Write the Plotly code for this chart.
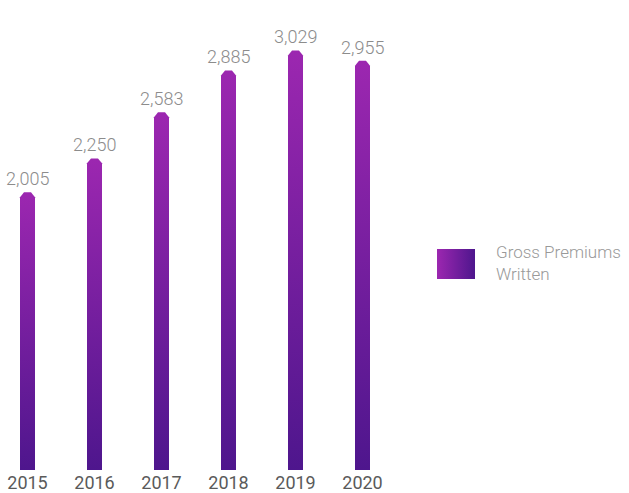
import plotly.graph_objects as go

years = ["2015", "2016", "2017", "2018", "2019", "2020"]
gpw_values = [2005, 2250, 2583, 2885, 3029, 2955]
series_name = "Gross Premiums<br>Written"

LIGHT = "#9C27B0"
DARK = "#4E168D"

W, H = 629, 493
plot_w = 395          # px width of the bar area
bottom_px = 470       # px of y=0
px_per_cat = 67.0
first_center_px = 27.5
x0 = -first_center_px / px_per_cat
x1 = x0 + plot_w / px_per_cat
px_per_unit = 0.1385
y_top = bottom_px / px_per_unit

half_w = 7.5 / px_per_cat
flat = 3.5 / px_per_cat
cham = 5.0 / px_per_unit


def py(p):
    """pixel row -> paper y (plot area spans rows 0..bottom_px)"""
    return (bottom_px - p) / bottom_px


fig = go.Figure()
for i, (yr, v) in enumerate(zip(years, gpw_values)):
    xs = [i - half_w, i - half_w, i - flat, i + flat, i + half_w, i + half_w, i - half_w]
    ys = [0, v - cham, v, v, v - cham, 0, 0]
    fig.add_trace(go.Scatter(
        x=xs, y=ys, mode="lines", line=dict(width=0), fill="toself",
        fillgradient=dict(type="vertical", colorscale=[[0, DARK], [1, LIGHT]]),
        hoverinfo="skip", showlegend=False,
    ))
    fig.add_annotation(x=i, y=v, text=f"{v:,}", showarrow=False, yanchor="bottom",
                       yshift=1, xref="x", yref="y",
                       font=dict(family="Roboto, Liberation Sans, sans-serif", size=18,
                                 color="#8c8c8c", weight=300))

# legend swatch
fig.add_trace(go.Scatter(
    x=[0, 1, 1, 0, 0], y=[0, 0, 1, 1, 0], xaxis="x2", yaxis="y2",
    mode="lines", line=dict(width=0), fill="toself",
    fillgradient=dict(type="horizontal", colorscale=[[0, LIGHT], [1, DARK]]),
    hoverinfo="skip", showlegend=False,
))
fig.add_annotation(x=494 / W, y=py(263), xref="paper", yref="paper", text=series_name,
                   showarrow=False, xanchor="left", yanchor="middle", align="left",
                   font=dict(family="Roboto, Liberation Sans, sans-serif", size=17,
                             color="#999999", weight=300))

fig.update_layout(
    width=W, height=H,
    margin=dict(l=0, r=0, t=0, b=H - bottom_px),
    plot_bgcolor="white", paper_bgcolor="white",
    showlegend=False,
    xaxis=dict(domain=[0, plot_w / W], range=[x0, x1], tickvals=list(range(len(years))),
               ticktext=years, showgrid=False, zeroline=False, showline=False, ticks="",
               ticklabelstandoff=0, automargin=False, fixedrange=True,
               tickfont=dict(family="Roboto, Liberation Sans, sans-serif", size=18,
                             color="#5a5a5a")),
    yaxis=dict(range=[0, y_top], showgrid=False, zeroline=False, showline=False,
               showticklabels=False, ticks="", automargin=False, fixedrange=True),
    xaxis2=dict(domain=[437 / W, 475 / W], range=[0, 1], visible=False, anchor="y2"),
    yaxis2=dict(domain=[py(279), py(249)], range=[0, 1], visible=False, anchor="x2"),
)

fig.write_html("out.html")
